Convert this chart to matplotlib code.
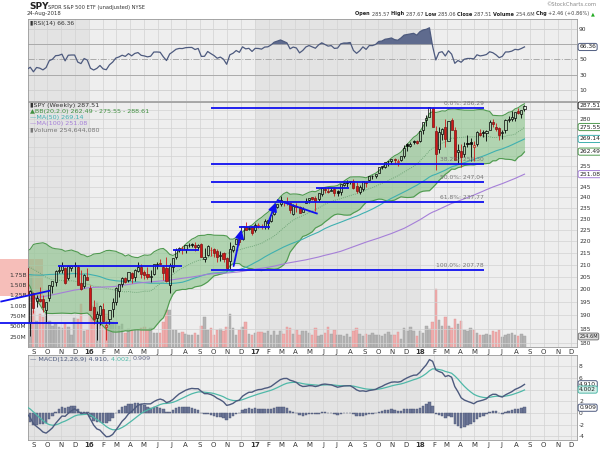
import numpy as np
import pandas as pd
import matplotlib
matplotlib.use("Agg")
import matplotlib.pyplot as plt
import matplotlib.dates as mdates
from matplotlib.patches import Rectangle
from matplotlib.transforms import blended_transform_factory
from matplotlib.ticker import FixedLocator, NullLocator, FixedFormatter

# ---------------- data (weekly SPY, week ending Fridays) ----------------
week_ending = pd.date_range("2015-08-21", periods=158, freq="W-FRI")

opens = [208.7, 187.5, 198.5, 195.3, 196.4, 196.2, 192.0, 196.5, 201.4, 202.9,
         207.3, 208.0, 208.6, 204.5, 208.6, 209.7, 209.0, 202.7, 201.4, 205.1,
         200.5, 193.0, 189.0, 190.0, 192.5, 185.8, 188.8, 192.3, 195.0, 199.4,
         202.3, 204.6, 203.6, 206.5, 205.0, 207.4, 209.1, 206.9, 206.0, 205.1,
         206.0, 210.0, 210.6, 208.9, 208.6, 201.8, 209.0, 213.2, 216.2, 216.9,
         216.8, 218.2, 218.9, 218.3, 217.4, 218.9, 212.4, 214.0, 216.0, 216.6,
         215.6, 213.8, 215.0, 212.9, 211.5, 216.2, 218.7, 221.1, 220.7, 226.4,
         225.3, 226.0,
         225.0, 226.7, 226.6, 226.5, 227.9, 229.0, 232.1, 235.4, 236.6, 238.0,
         237.6, 237.2, 231.9, 235.8, 235.4, 233.1, 237.2, 238.7, 239.8, 239.5,
         238.9, 241.5, 243.6, 243.1, 243.0, 243.7, 242.9, 242.3, 245.9, 247.1,
         247.5, 247.5, 245.1, 242.6, 244.0, 247.3, 248.0, 250.1, 250.1, 251.5,
         254.5, 254.6, 257.5, 257.6, 258.8, 257.3, 258.3, 260.4, 266.3, 265.6,
         268.1, 267.8,
         267.8, 273.7, 279.3, 281.3, 286.0, 273.5, 263.8, 271.9, 275.6, 268.1,
         279.2, 273.9, 262.1, 262.6, 261.4, 267.0, 267.3, 264.8, 266.5, 272.4,
         273.0, 272.4, 274.0, 278.1, 275.8, 274.9, 272.1, 274.0, 279.6, 280.0,
         280.7, 284.2, 283.0, 285.5]
highs = [210.6, 199.8, 199.0, 197.6, 200.8, 197.6, 195.0, 201.9, 203.5, 207.6,
         209.4, 211.0, 208.9, 209.8, 209.7, 211.0, 209.7, 207.8, 206.1, 208.7,
         201.9, 195.9, 191.6, 193.9, 194.6, 188.0, 192.2, 196.7, 201.1, 202.2,
         204.9, 205.1, 207.0, 206.8, 208.3, 210.9, 210.3, 207.9, 209.1, 207.8,
         210.3, 210.9, 212.5, 209.8, 213.0, 210.5, 212.9, 217.0, 217.6, 217.7,
         218.2, 219.0, 219.1, 219.4, 218.6, 219.2, 216.9, 218.2, 217.5, 216.9,
         216.8, 215.7, 215.5, 213.3, 219.4, 218.3, 221.1, 221.8, 226.5, 228.3,
         226.8, 226.7,
         227.8, 228.0, 227.4, 229.7, 229.4, 231.5, 235.1, 236.8, 240.3, 238.0,
         240.0, 237.6, 236.5, 237.3, 236.0, 235.2, 239.5, 239.7, 240.2, 240.7,
         241.7, 244.2, 245.0, 244.9, 244.4, 244.4, 243.4, 246.0, 247.0, 248.0,
         247.8, 248.9, 247.0, 245.6, 247.8, 247.9, 250.2, 250.7, 251.3, 254.7,
         255.0, 257.3, 257.9, 258.7, 259.0, 258.6, 260.4, 266.0, 266.8, 267.3,
         268.6, 268.6,
         273.6, 278.1, 282.3, 286.6, 286.6, 275.9, 275.6, 275.0, 280.0, 278.9,
         280.4, 275.8, 266.6, 266.6, 267.6, 271.3, 269.6, 267.9, 273.2, 274.3,
         273.8, 273.9, 279.2, 280.0, 277.9, 275.5, 274.0, 280.0, 281.6, 284.6,
         283.7, 286.0, 285.1, 287.7]
lows = [197.5, 182.4, 191.0, 193.0, 194.9, 191.3, 187.0, 195.5, 198.6, 201.3,
        206.4, 206.7, 202.3, 203.9, 207.4, 204.8, 201.9, 199.6, 200.7, 203.8,
        191.9, 186.9, 181.0, 186.5, 187.0, 181.1, 186.8, 189.5, 193.9, 196.9,
        200.8, 202.5, 202.8, 202.5, 203.4, 207.0, 204.7, 204.0, 204.0, 202.8,
        205.6, 208.3, 209.9, 203.9, 202.8, 198.6, 207.0, 212.5, 215.3, 214.4,
        214.9, 217.4, 217.3, 215.6, 216.0, 213.1, 211.2, 213.7, 213.6, 213.2,
        211.2, 211.6, 211.2, 208.4, 208.4, 215.3, 218.7, 218.1, 220.4, 224.7,
        224.9, 222.7,
        223.9, 225.6, 225.2, 225.3, 225.2, 228.3, 231.5, 235.0, 235.6, 235.8,
        236.4, 232.6, 231.6, 233.1, 232.5, 232.8, 237.0, 237.3, 238.4, 233.6,
        238.3, 240.3, 241.9, 241.9, 242.7, 240.7, 240.4, 241.0, 245.2, 244.8,
        246.3, 243.8, 241.8, 241.6, 242.8, 244.9, 247.8, 248.6, 249.2, 251.5,
        253.8, 254.3, 255.3, 256.4, 256.3, 255.1, 257.8, 259.4, 262.7, 264.8,
        266.7, 266.6,
        267.4, 272.0, 276.3, 280.8, 275.4, 252.9, 261.6, 268.6, 264.9, 268.0,
        274.2, 258.1, 256.0, 254.7, 259.6, 265.1, 257.8, 257.8, 265.5, 270.6,
        270.1, 268.0, 273.9, 275.6, 273.3, 268.5, 269.0, 272.4, 278.4, 279.1,
        278.9, 283.0, 280.3, 284.6]
closes = [197.6, 199.3, 192.6, 196.5, 195.5, 193.0, 195.0, 201.7, 203.3, 207.5,
          207.9, 209.3, 202.5, 209.3, 209.6, 209.6, 201.9, 200.0, 205.7, 203.9,
          192.1, 188.8, 190.5, 193.7, 188.0, 186.6, 191.9, 195.1, 200.4, 202.0,
          204.4, 203.1, 206.9, 204.5, 207.8, 209.0, 206.3, 205.7, 204.8, 205.5,
          210.2, 210.3, 210.1, 206.5, 203.2, 209.9, 212.7, 216.0, 217.2, 217.1,
          218.2, 218.5, 218.5, 217.3, 218.4, 213.3, 213.4, 217.7, 216.3, 215.0,
          213.1, 214.0, 212.5, 208.6, 216.4, 218.0, 221.0, 219.7, 226.5, 225.0,
          225.7, 223.5,
          227.2, 227.1, 226.7, 229.0, 229.3, 231.5, 235.1, 236.7, 238.4, 237.7,
          237.0, 233.9, 235.7, 235.2, 232.5, 234.6, 238.1, 239.7, 239.0, 238.3,
          241.7, 244.2, 243.4, 242.6, 243.1, 241.8, 242.1, 246.0, 246.9, 246.9,
          247.4, 244.1, 242.7, 244.6, 247.8, 246.6, 250.1, 250.1, 251.2, 254.4,
          254.9, 257.1, 257.7, 258.7, 258.1, 257.9, 260.4, 264.5, 265.5, 266.5,
          267.5, 266.9,
          273.4, 278.1, 280.4, 286.6, 275.5, 261.5, 273.1, 274.7, 269.1, 278.9,
          274.2, 258.1, 263.2, 259.7, 265.2, 266.6, 266.6, 266.0, 272.9, 271.3,
          272.2, 273.6, 278.2, 277.1, 274.7, 271.3, 273.1, 279.6, 279.7, 280.9,
          283.6, 283.2, 285.1, 287.5]
volumes_m = [930, 1750, 880, 640, 800, 720, 820, 640, 500, 560,
             480, 450, 560, 480, 280, 700, 680, 1050, 380, 400,
             900, 1000, 1100, 820, 760, 800, 620, 600, 560, 520,
             560, 350, 440, 400, 420, 420, 450, 480, 420, 460,
             350, 330, 330, 600, 900, 900, 420, 400, 330, 370,
             320, 290, 280, 330, 280, 520, 720, 420, 450, 300,
             400, 430, 380, 480, 800, 450, 280, 420, 480, 600,
             320, 280,
             330, 360, 360, 340, 390, 300, 390, 300, 380, 320,
             490, 450, 320, 400, 300, 380, 380, 340, 280, 450,
             260, 280, 330, 480, 310, 400, 290, 300, 270, 310,
             250, 390, 450, 320, 260, 320, 280, 340, 290, 290,
             270, 320, 360, 300, 300, 360, 200, 450, 380, 480,
             380, 260,
             380, 340, 500, 430, 600, 1400, 650, 500, 720, 500,
             460, 680, 550, 620, 400, 380, 450, 420, 340, 300,
             290, 320, 280, 380, 360, 420, 240, 280, 320, 340,
             300, 270, 320, 254.6]
# weekly closes before the visible window (Sep 2013 - Aug 2015), indicator warm-up
warmup_closes = [171.0, 169.0, 169.2, 170.3, 174.4, 175.9, 176.2, 177.3, 179.7, 180.6,
                 181.0, 180.0, 177.3, 181.6, 184.2,
                 182.9, 184.1, 183.6, 178.9, 178.2, 179.7, 184.0, 183.9, 186.3, 188.3,
                 184.7, 186.2, 185.9, 186.4, 181.5, 186.4, 186.3, 188.3, 187.7, 188.1,
                 190.4, 192.7, 194.9, 193.5, 195.9, 195.8, 198.2, 196.5, 197.7, 197.9,
                 192.5, 193.2, 195.7, 199.2, 200.7, 200.9, 199.1, 201.0, 198.8, 197.0,
                 190.5, 188.5, 196.4, 201.7, 203.2, 204.2, 206.7, 207.2, 208.0, 200.9,
                 207.5, 208.7,
                 205.4, 204.3, 201.6, 204.9, 199.5, 205.5, 209.8, 211.2, 211.0, 207.4,
                 205.8, 210.4, 207.1, 206.4, 210.1, 207.0, 210.6, 210.8, 211.6, 212.4,
                 213.0, 211.1, 209.8, 209.1, 210.8, 210.0, 207.3, 207.4, 212.5, 207.5,
                 210.5, 208.0, 209.4]

fib_levels = [286.29, 256.30, 247.04, 237.77, 207.78]
fib_labels = ["0.0%: 286.29", "38.2%: 256.30", "50.0%: 247.04", "61.8%: 237.77", "100.0%: 207.78"]
fib_start, fib_end = "2016-09-26", "2018-05-22"

# hand-drawn annotation lines: (start date, start price, end date, end price)
trend_lines = [("2015-06-19", 195.2, "2015-10-07", 199.5),
               ("2015-06-19", 187.3, "2016-03-05", 187.3),
               ("2015-10-24", 209.5, "2016-07-24", 209.5),
               ("2016-07-04", 216.2, "2016-08-31", 216.2),
               ("2016-11-27", 226.3, "2017-02-04", 226.3),
               ("2017-02-19", 238.6, "2017-05-20", 232.2),
               ("2017-05-16", 244.3, "2017-07-28", 244.3)]
arrows = [("2016-11-14", 208.3, "2016-12-04", 226.3),
          ("2017-01-28", 226.7, "2017-02-19", 238.6)]

price_ticks = [180, 185, 190, 195, 200, 205, 210, 215, 220, 225, 230, 235, 240, 245, 255, 280]
price_grid = list(range(180, 290, 5))
vol_ticks = [250, 500, 750, 1000, 1250, 1500, 1750]
vol_tick_labels = ["250M", "500M", "750M", "1.00B", "1.25B", "1.50B", "1.75B"]

# ---------------- indicators ----------------
n_w = len(warmup_closes)
allc = pd.Series(warmup_closes + closes, dtype=float)
sma20 = allc.rolling(20).mean()
sd20 = allc.rolling(20).std(ddof=0)
bb_up, bb_lo = sma20 + 2 * sd20, sma20 - 2 * sd20
ma50 = allc.rolling(50).mean()
ma100 = allc.rolling(100).mean()
ema12 = allc.ewm(span=12, adjust=False).mean()
ema26 = allc.ewm(span=26, adjust=False).mean()
macd = ema12 - ema26
sig = macd.ewm(span=9, adjust=False).mean()
hist = macd - sig
d = allc.diff()
ag = d.clip(lower=0).ewm(alpha=1 / 14, adjust=False).mean()
al = (-d.clip(upper=0)).ewm(alpha=1 / 14, adjust=False).mean()
rsi = 100 - 100 / (1 + ag / al)
prevc = allc.shift(1)

sl = slice(n_w, None)
sma20, bb_up, bb_lo, ma50, ma100 = [s[sl].values for s in (sma20, bb_up, bb_lo, ma50, ma100)]
macd, sig, hist, rsi, prevc = [s[sl].values for s in (macd, sig, hist, rsi, prevc)]

xs = mdates.date2num((week_ending - pd.Timedelta(days=4)).to_pydatetime())
O, Hh, Lw, C = map(np.array, (opens, highs, lows, closes))
V = np.array(volumes_m, dtype=float)

# ---------------- figure ----------------
W, H = 600, 450
fig = plt.figure(figsize=(6, 4.5), dpi=100)
fig.patch.set_facecolor("white")


def rect(x0, y0, x1, y1):
    return [x0 / W, 1 - y1 / H, (x1 - x0) / W, (y1 - y0) / H]


LX, RX = 28, 577
XL = (mdates.datestr2num("2015-08-19"), mdates.datestr2num("2018-12-14"))
months = pd.date_range("2015-09-01", "2018-12-01", freq="MS")
mnum = mdates.date2num(months.to_pydatetime())
mlab = [(m.strftime("%y") if m.month == 1 else m.strftime("%b")[0]) for m in months]
years = [("2015-01-01", "2016-01-01", "#e3e3e3"), ("2016-01-01", "2017-01-01", "#eeeeee"),
         ("2017-01-01", "2018-01-01", "#e3e3e3"), ("2018-01-01", "2019-01-01", "#eeeeee")]
GRID = "#d2d2d2"
SP = "#999999"
SLATE = "#4d5a7e"
TEAL = "#4fb8a8"
LAB = 4.3
LABC = "#333333"


def shade(ax):
    for a, b, c in years:
        ax.axvspan(mdates.datestr2num(a), mdates.datestr2num(b), color=c, zorder=0, lw=0)


def style(ax):
    for s in ax.spines.values():
        s.set_color(SP)
        s.set_linewidth(0.6)
    ax.set_xlim(*XL)
    ax.set_xticks(mnum)
    ax.xaxis.set_minor_locator(NullLocator())
    for xm in mnum:
        ax.axvline(xm, color=GRID, lw=0.5, zorder=0.5)
    ax.tick_params(axis="both", length=0, labelsize=LAB, labelcolor=LABC, pad=1.5)
    ax.yaxis.tick_right()
    ax.yaxis.set_minor_locator(NullLocator())


def bottom_labels(ax):
    ax.set_xticklabels(mlab)
    for t, m in zip(ax.get_xticklabels(), months):
        t.set_fontsize(5)
        if m.month == 1:
            t.set_fontweight("bold")


def vbox(ax, y, s, ec, fc="white", tc="#222222", size=LAB):
    tr = blended_transform_factory(ax.transAxes, ax.transData)
    ax.text(1.004, y, s, transform=tr, fontsize=size, color=tc, va="center", ha="left",
            clip_on=False, zorder=10,
            bbox=dict(boxstyle="round,pad=0.18,rounding_size=0.3", fc=fc, ec=ec, lw=0.7))


# ---- RSI ----
ax_r = fig.add_axes(rect(LX, 19, RX, 101))
style(ax_r)
shade(ax_r)
ax_r.set_ylim(-4.4, 103)
ax_r.set_xticklabels([])
for lv, c, ls in [(10, GRID, "-"), (90, GRID, "-"), (70, "#aaaaaa", "-"), (30, "#aaaaaa", "-"), (50, "#aaaaaa", "-.")]:
    ax_r.axhline(lv, color=c, lw=0.7, ls=ls, zorder=0.6)
ax_r.plot(xs, rsi, color=SLATE, lw=0.9, zorder=3)
ax_r.fill_between(xs, 70, rsi, where=rsi > 70, interpolate=True, color="#5f6b8e", lw=0, zorder=2)
ax_r.fill_between(xs, 30, rsi, where=rsi < 30, interpolate=True, color="#5f6b8e", lw=0, zorder=2)
ax_r.yaxis.set_major_locator(FixedLocator([10, 30, 50, 90]))
ax_r.set_yticklabels(["10", "30", "50", "90"])
vbox(ax_r, 66.36, "66.36", SLATE)
ax_r.text(0.003, 0.975, "\u25aeRSI(14) 66.36", transform=ax_r.transAxes, fontsize=LAB, color="#333333",
          va="top", ha="left")

# ---- Price: volume underneath ----
ax_v = fig.add_axes(rect(LX, 102, RX, 347))
ax_v.set_zorder(1)
shade(ax_v)
ax_v.set_xlim(*XL)
ax_v.set_ylim(0, 5930)
ax_v.set_xticks([])
for s in ax_v.spines.values():
    s.set_visible(False)
ax_v.yaxis.set_major_locator(FixedLocator(vol_ticks))
ax_v.set_yticklabels(vol_tick_labels)
ax_v.tick_params(axis="y", length=0, labelsize=LAB, labelcolor=LABC, pad=1)
upv = C >= prevc
ax_v.bar(xs, V, width=5.6, color=np.where(upv, "#b4b4b4", "#f0acac"),
         edgecolor=np.where(upv, "#a0a0a0", "#dc9696"), lw=0.3, zorder=2)
ax_v.add_patch(Rectangle((0, 1 - 296 / H), 43 / W, 37 / H, transform=fig.transFigure,
                         facecolor="#f08a80", alpha=0.55, lw=0, clip_on=False, zorder=1))

ax_p = fig.add_axes(rect(LX, 102, RX, 347))
ax_p.set_zorder(2)
ax_p.patch.set_visible(False)
ax_p.set_yscale("log")
ax_p.set_ylim(178.5, 289.5)
style(ax_p)
for g in price_grid:
    ax_p.axhline(g, color=GRID, lw=0.5, zorder=0.5)
ax_p.yaxis.set_major_locator(FixedLocator(price_ticks))
ax_p.yaxis.set_major_formatter(FixedFormatter([str(t) for t in price_ticks]))
ax_p.yaxis.set_minor_locator(NullLocator())
bottom_labels(ax_p)

# Bollinger
ax_p.fill_between(xs, bb_lo, bb_up, color="#8cc48c", alpha=0.62, lw=0, zorder=1)
ax_p.plot(xs, bb_up, color="#4f9a4f", lw=0.8, zorder=1.5)
ax_p.plot(xs, bb_lo, color="#4f9a4f", lw=0.8, zorder=1.5)
ax_p.plot(xs, sma20, color="#5f9a6a", lw=0.6, ls=(0, (1, 1.5)), zorder=1.5)
ax_p.plot(xs, ma50, color="#3fb0b0", lw=0.8, zorder=1.6)
ax_p.plot(xs, ma100, color="#a57fd8", lw=0.8, zorder=1.6)

# candles
bw = 4.6
red = "#d01818"
for i in range(len(xs)):
    col = "black" if C[i] >= prevc[i] else red
    lo_b, hi_b = min(O[i], C[i]), max(O[i], C[i])
    if hi_b - lo_b < 0.25:
        hi_b = lo_b + 0.25
    ax_p.vlines(xs[i], Lw[i], lo_b, color=col, lw=0.6, zorder=3)
    ax_p.vlines(xs[i], hi_b, Hh[i], color=col, lw=0.6, zorder=3)
    filled = C[i] < O[i]
    ax_p.bar(xs[i], hi_b - lo_b, width=bw, bottom=lo_b,
             color=(col if filled else "none"), edgecolor=("#7a1010" if col == red and filled else col),
             lw=0.5, zorder=3.2)

# fib lines
f0, f1 = mdates.datestr2num(fib_start), mdates.datestr2num(fib_end)
for lv, lb in zip(fib_levels, fib_labels):
    ax_p.hlines(lv, f0, f1, color="#1010f0", lw=1.3, zorder=4)
    ax_p.text(f1, lv * 1.004, lb, fontsize=4.3, color="#777777", ha="right", va="bottom", zorder=4)
# annotations
for a, pa, b, pb in trend_lines:
    ax_p.plot([mdates.datestr2num(a), mdates.datestr2num(b)], [pa, pb], color="#1010f0", lw=1.3,
              zorder=4, clip_on=False, solid_capstyle="butt")
for a, pa, b, pb in arrows:
    ax_p.annotate("", xy=(mdates.datestr2num(b), pb), xytext=(mdates.datestr2num(a), pa),
                  arrowprops=dict(arrowstyle="-|>,head_length=0.5,head_width=0.25", color="#1010f0", lw=1.3),
                  zorder=4)

# right boxes
vbox(ax_p, 287.51, "287.51", "#222222")
vbox(ax_p, 275.55, "275.55", "#4f9a4f")
vbox(ax_p, 269.14, "269.14", "#3fb0b0")
vbox(ax_p, 262.49, "262.49", "#4f9a4f")
vbox(ax_p, 251.08, "251.08", "#a57fd8")
vbox(ax_v, 254.6, "254.6M", "#777777", fc="#dddddd", size=3.6)

# legend
leg = [("\u25aeSPY (Weekly) 287.51", "#333333"),
       ("\u25b2BB(20,2.0) 262.49 - 275.55 - 288.61", "#3f8f3f"),
       ("\u2014MA(50) 269.14", "#3fb0b0"),
       ("\u2014MA(100) 251.08", "#a57fd8"),
       ("\u25aeVolume 254,644,080", "#777777")]
for k, (s, c) in enumerate(leg):
    fig.text(30 / W, 1 - (105.7 + 6 * k) / H, s, fontsize=4.6, color=c, va="center", ha="left", zorder=5)

# ---- MACD ----
ax_m = fig.add_axes(rect(LX, 355, RX, 440))
style(ax_m)
shade(ax_m)
ax_m.set_ylim(-4.6, 9.9)
for g in range(-4, 10, 2):
    ax_m.axhline(g, color=GRID, lw=0.5, zorder=0.5)
ax_m.bar(xs, hist, width=5.4, color="#6b7596", edgecolor="#4a5474", lw=0.3, zorder=2)
ax_m.plot(xs, sig, color=TEAL, lw=0.9, zorder=3)
ax_m.plot(xs, macd, color=SLATE, lw=1.0, zorder=3.1)
ax_m.yaxis.set_major_locator(FixedLocator([-4, -2, 0, 2, 6, 8]))
ax_m.set_yticklabels(["-4", "-2", "0", "2", "6", "8"])
bottom_labels(ax_m)
vbox(ax_m, 4.91, "4.910", SLATE)
vbox(ax_m, 4.002, "4.002", TEAL, fc="#d6f0ea")
vbox(ax_m, 0.909, "0.909", SLATE)

# ---- text helpers ----
fig.canvas.draw()
rend = fig.canvas.get_renderer()


def pieces(x, y, parts, size, align="left"):
    objs = [fig.text(0, 0, s, color=c, fontweight=w, fontsize=size, va="center", ha="left")
            for s, c, w in parts]
    ws = [t.get_window_extent(rend).width for t in objs]
    cx = x if align == "left" else x - sum(ws)
    for t, wd in zip(objs, ws):
        t.set_position((cx / W, 1 - y / H))
        cx += wd


pieces(30, 359, [("\u2014 MACD(12,26,9) 4.910, ", SLATE, "normal"), ("4.002, ", TEAL, "normal"),
                 ("0.909", "#6a7090", "normal")], 4.6)

fig.text(29 / W, 1 - 6.5 / H, "SPY", fontsize=6.5, fontweight="bold", color="#222222", va="center")
fig.text(48 / W, 1 - 7 / H, "SPDR S&P 500 ETF (unadjusted) NYSE", fontsize=3.7, color="#333333", va="center")
fig.text(27 / W, 1 - 14 / H, "24-Aug-2018", fontsize=3.9, color="#333333", va="center")
fig.text(596 / W, 1 - 5 / H, "\u00a9StockCharts.com", fontsize=3.8, color="#888888", va="center", ha="right")
hdr = [("Open ", "#222222", "bold"), ("285.57 ", "#444444", "normal"), ("High ", "#222222", "bold"),
       ("287.67 ", "#444444", "normal"), ("Low ", "#222222", "bold"), ("285.06 ", "#444444", "normal"),
       ("Close ", "#222222", "bold"), ("287.51 ", "#444444", "normal"), ("Volume ", "#222222", "bold"),
       ("254.6M ", "#444444", "normal"), ("Chg ", "#222222", "bold"), ("+2.46 (+0.86%) ", "#444444", "normal"),
       ("\u25b2", "#22aa22", "normal")]
pieces(595, 14, hdr, 3.6, align="right")

fig.savefig("out.png", dpi=100, facecolor="white")
